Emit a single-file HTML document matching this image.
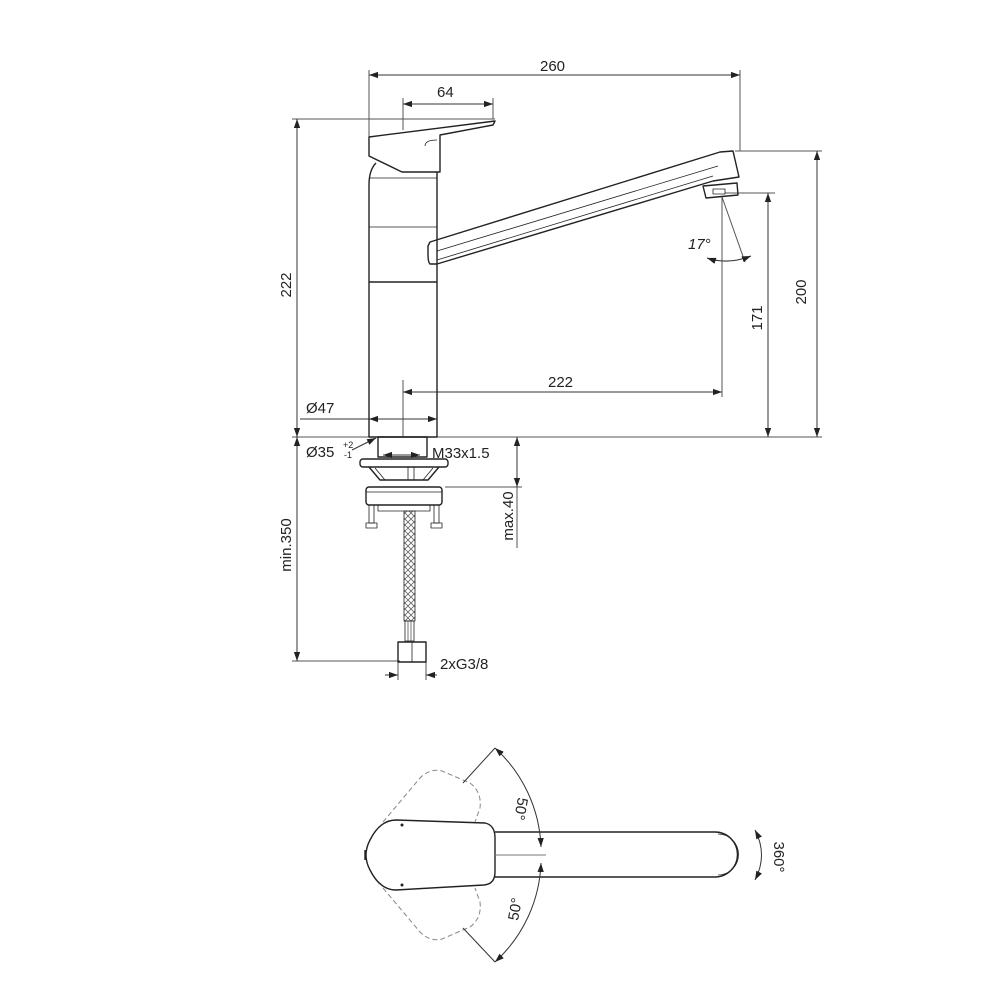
<!DOCTYPE html>
<html><head><meta charset="utf-8"><style>
html,body{margin:0;padding:0;background:#fff;}
svg{display:block;}
text{font-family:"Liberation Sans",sans-serif;fill:#222;}
</style></head><body>
<svg width="1000" height="1000" viewBox="0 0 1000 1000" xmlns="http://www.w3.org/2000/svg">
<defs>
<marker id="a" viewBox="0 0 10 10" refX="10" refY="5" markerWidth="9" markerHeight="9" orient="auto-start-reverse" markerUnits="userSpaceOnUse"><path d="M0,1.5 L10,5 L0,8.5z" fill="#222"/></marker>
<pattern id="h" width="6" height="6" patternUnits="userSpaceOnUse"><path d="M0,6 L6,0 M0,0 L6,6" stroke="#666" stroke-width="0.8"/></pattern>
</defs>
<g fill="none" stroke="#555" stroke-width="1">
<line x1="369" y1="70" x2="369" y2="137"/>
<line x1="740" y1="70" x2="740" y2="151"/>
<line x1="403" y1="98" x2="403" y2="130"/>
<line x1="493" y1="98" x2="493" y2="119"/>
<line x1="292" y1="119" x2="495" y2="119"/>
<line x1="735" y1="151" x2="822" y2="151"/>
<line x1="725" y1="193" x2="775" y2="193"/>
<line x1="292" y1="437" x2="822" y2="437"/>
<line x1="403" y1="380" x2="403" y2="437"/>
<line x1="722" y1="197" x2="722" y2="397"/>
<line x1="722" y1="197" x2="745" y2="262"/>
<line x1="445" y1="487" x2="522" y2="487"/>
<line x1="517" y1="487" x2="517" y2="548"/>
<line x1="292" y1="661" x2="400" y2="661"/>
<line x1="398" y1="662" x2="398" y2="680"/>
<line x1="426" y1="662" x2="426" y2="680"/>
</g>
<g fill="none" stroke="#333" stroke-width="1">
<line x1="369" y1="75" x2="740" y2="75" marker-start="url(#a)" marker-end="url(#a)"/>
<line x1="403" y1="104" x2="493" y2="104" marker-start="url(#a)" marker-end="url(#a)"/>
<line x1="297" y1="119" x2="297" y2="437" marker-start="url(#a)" marker-end="url(#a)"/>
<line x1="817" y1="151" x2="817" y2="437" marker-start="url(#a)" marker-end="url(#a)"/>
<line x1="768" y1="193" x2="768" y2="437" marker-start="url(#a)" marker-end="url(#a)"/>
<line x1="403" y1="392" x2="722" y2="392" marker-start="url(#a)" marker-end="url(#a)"/>
<line x1="300" y1="419" x2="369" y2="419"/>
<line x1="369" y1="419" x2="437" y2="419" marker-start="url(#a)" marker-end="url(#a)"/>
<path d="M707,258 Q728,265 751,256" marker-start="url(#a)" marker-end="url(#a)"/>
<line x1="297" y1="437" x2="297" y2="661" marker-start="url(#a)" marker-end="url(#a)"/>
<line x1="517" y1="437" x2="517" y2="487" marker-start="url(#a)" marker-end="url(#a)"/>
<line x1="383" y1="455" x2="420" y2="455" marker-start="url(#a)" marker-end="url(#a)"/>
<line x1="352" y1="450" x2="376" y2="438" marker-end="url(#a)"/>
<line x1="385" y1="675" x2="398" y2="675" marker-end="url(#a)"/>
<line x1="437" y1="675" x2="426" y2="675" marker-end="url(#a)"/>
</g>
<g fill="none" stroke="#222" stroke-width="1.4" stroke-linejoin="round">
<path d="M369,137 L495,121 L493,125 L440,135 L440,172 L402,172 L369,156 Z"/>
<path d="M437,140 Q425,140 425,146" stroke-width="0.8"/>
<path d="M376,163 Q369,170 369,185 L369,437 L437,437 L437,172"/>
<line x1="369" y1="178" x2="437" y2="178" stroke-width="0.8"/>
<line x1="369" y1="227" x2="437" y2="227" stroke-width="0.8"/>
<line x1="369" y1="282" x2="437" y2="282" stroke-width="1.6"/>
<path d="M430,242 L720,152 L733,151 L739,177 L713,181 L437,264 L430,264 Q428,262 428,255 L428,246 Z"/>
<line x1="437" y1="251" x2="718" y2="166" stroke-width="0.8"/>
<line x1="437" y1="260" x2="713" y2="176" stroke-width="0.8"/>
<path d="M703,186 L737,183 L738,195 L706,198 Z"/>
<rect x="713" y="189" width="12" height="5" stroke-width="0.8"/>
<rect x="378" y="437" width="49" height="20"/>
<rect x="360" y="459" width="88" height="8" rx="3"/>
<path d="M369,467 L380,480 L428,480 L439,467"/>
<line x1="375" y1="468" x2="385" y2="480" stroke-width="0.8"/>
<line x1="433" y1="468" x2="423" y2="480" stroke-width="0.8"/>
<rect x="408" y="467" width="6" height="13" stroke-width="0.8"/>
<rect x="366" y="487" width="76" height="18" rx="3"/>
<line x1="366" y1="492" x2="442" y2="492" stroke-width="0.8"/>
<rect x="378" y="505" width="52" height="6" stroke-width="0.8"/>
<rect x="369" y="505" width="5" height="18" stroke-width="0.8"/>
<rect x="434" y="505" width="5" height="18" stroke-width="0.8"/>
<rect x="366" y="523" width="11" height="5" stroke-width="0.8"/>
<rect x="431" y="523" width="11" height="5" stroke-width="0.8"/>
<rect x="404" y="511" width="11" height="110" fill="url(#h)" stroke-width="0.8"/>
<rect x="405" y="621" width="9" height="20" stroke-width="0.8"/>
<line x1="408" y1="621" x2="408" y2="641" stroke-width="0.6"/>
<line x1="411" y1="621" x2="411" y2="641" stroke-width="0.6"/>
<rect x="398" y="642" width="28" height="20"/>
<line x1="412" y1="642" x2="412" y2="662" stroke-width="0.8"/>
</g>
<g font-size="15">
<text x="540" y="71">260</text>
<text x="437" y="97">64</text>
<text x="548" y="387">222</text>
<text x="306" y="413">Ø47</text>
<text x="306" y="457">Ø35</text>
<text x="343" y="448" font-size="9">+2</text>
<text x="344" y="458" font-size="9">-1</text>
<text x="432" y="458">M33x1.5</text>
<text x="440" y="669">2xG3/8</text>
<text x="688" y="249" font-style="italic">17°</text>
<text transform="translate(291,285) rotate(-90)" text-anchor="middle">222</text>
<text transform="translate(762,318) rotate(-90)" text-anchor="middle">171</text>
<text transform="translate(806,292) rotate(-90)" text-anchor="middle">200</text>
<text transform="translate(513,516) rotate(-90)" text-anchor="middle">max.40</text>
<text transform="translate(291,545) rotate(-90)" text-anchor="middle">min.350</text>
</g>
<g fill="none" stroke="#222" stroke-width="1.4">
<path d="M495,832 L715,832 A22.5,22.5 0 0 1 715,877 L495,877"/>
<path d="M718,834 A20,20 0 0 1 718,875" stroke-width="0.8"/>
<path d="M396,820 L485,823 Q495,825 495,838 L495,872 Q495,884 484,885 L396,890 Q380,890 370,870 Q362,855 370,840 Q380,820 396,820 Z"/>
<line x1="365" y1="850" x2="365" y2="860"/>
</g>
<circle cx="402" cy="825" r="1.5" fill="#222"/>
<circle cx="402" cy="885" r="1.5" fill="#222"/>
<g fill="none" stroke="#888" stroke-width="1" stroke-dasharray="5,3">
<path d="M383,822 L420,778 Q430,768 442,771 L470,783 Q482,792 480,808 L475,822"/>
<path d="M383,888 L420,932 Q430,942 442,939 L470,927 Q482,918 480,902 L475,888"/>
</g>
<g fill="none" stroke="#333" stroke-width="1">
<line x1="495" y1="855" x2="546" y2="855" stroke="#777"/>
<line x1="463" y1="783" x2="495" y2="748"/>
<line x1="463" y1="928" x2="495" y2="962"/>
<path d="M495,748 A141,141 0 0 1 541,847" marker-start="url(#a)" marker-end="url(#a)"/>
<path d="M541,863 A141,141 0 0 1 495,962" marker-start="url(#a)" marker-end="url(#a)"/>
<path d="M755,830 Q768,855 755,880" marker-start="url(#a)" marker-end="url(#a)"/>
</g>
<g font-size="15">
<text transform="translate(516,808) rotate(100)" text-anchor="middle">50°</text>
<text transform="translate(520,910) rotate(-80)" text-anchor="middle">50°</text>
<text transform="translate(774,857) rotate(90)" text-anchor="middle">360°</text>
</g>
</svg>
</body></html>
